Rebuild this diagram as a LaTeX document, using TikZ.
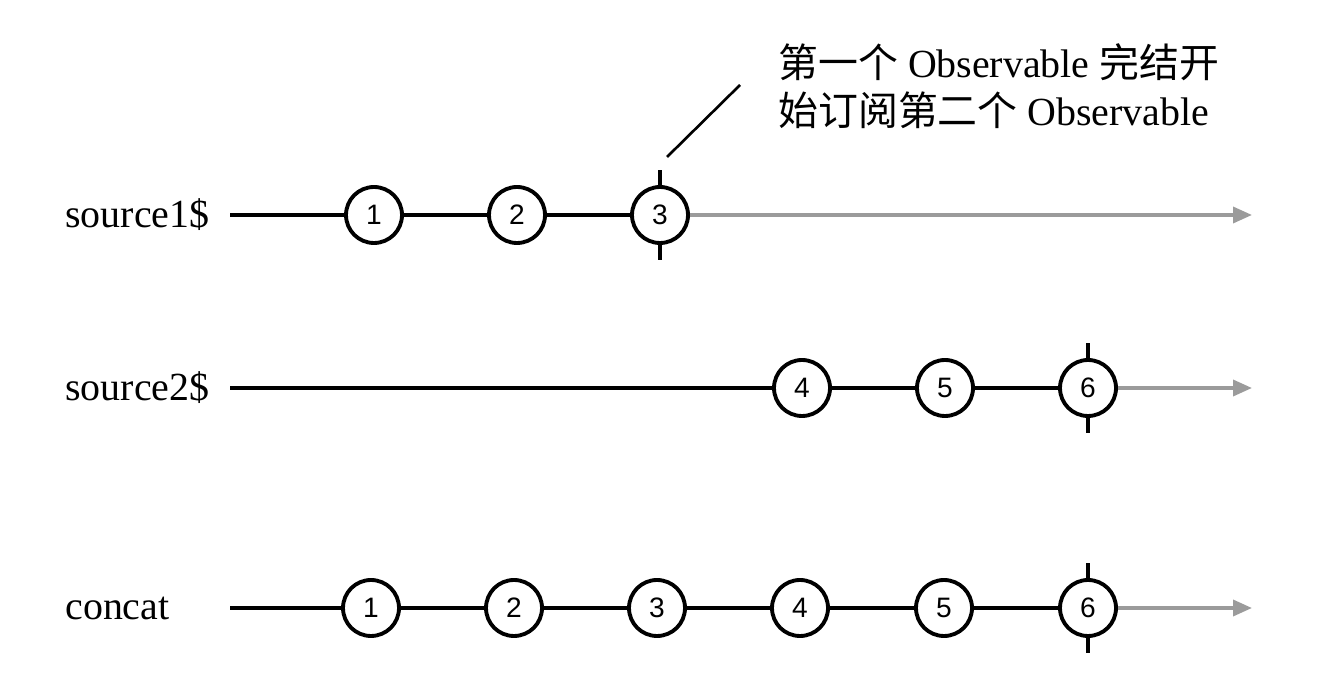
\documentclass[tikz,border=0pt]{standalone}
\usepackage{fontspec}
\setmainfont{Liberation Serif}
\newfontfamily\cjk{Noto Sans CJK SC}
\newfontfamily\numfont{Liberation Sans}
\usepackage[usenames]{xcolor}
\usepackage{tikz}
\usetikzlibrary{positioning}
\usetikzlibrary{arrows.meta}
\definecolor{done_gray}{RGB}{155,155,155}
\tikzset{my_timeline/.style={line width=2.2pt}}
\tikzset{my_marble/.style={circle, draw, line width=2.2pt, fill=white, minimum size=1.12cm, inner sep=0pt, font=\numfont\fontsize{16}{16}\selectfont}}
\tikzset{my_label/.style={anchor=west, inner sep=0pt, font=\fontsize{22.7}{27}\selectfont}}
\tikzset{my_rest/.style={draw=done_gray, line width=2pt, -{Triangle[length=0.38cm,width=0.32cm]}}}
\tikzset{my_tick/.style={line width=2.2pt}}

\begin{document}
\begin{tikzpicture}
    \useasboundingbox (0,0) rectangle (26.76,13.6);
    %\draw[help lines] (0,0) grid (26,13);
    \node[my_label] (src1) at (1.3,9.3) {source1\$};
    \node[my_label] (src2) at (1.3,5.84) {source2\$};
    \node[my_label] (cat) at (1.3,1.44) {concat};
    \coordinate (a0) at (4.6,9.3);
    \coordinate (b0) at (4.6,5.84);
    \coordinate (c0) at (4.6,1.44);
    \coordinate (a_end) at (25.04,9.3);
    \coordinate (b_end) at (25.04,5.84);
    \coordinate (c_end) at (25.04,1.44);

    \node[my_marble] (a1) at (7.48,9.3) {1};
    \node[my_marble] (a2) at (10.34,9.3) {2};
    \node[my_marble] (a3) at (13.2,9.3) {3};
    \node[my_marble] (b4) at (16.04,5.84) {4};
    \node[my_marble] (b5) at (18.9,5.84) {5};
    \node[my_marble] (b6) at (21.76,5.84) {6};
    \node[my_marble] (c1) at (7.42,1.44) {1};
    \node[my_marble] (c2) at (10.28,1.44) {2};
    \node[my_marble] (c3) at (13.14,1.44) {3};
    \node[my_marble] (c4) at (16.0,1.44) {4};
    \node[my_marble] (c5) at (18.88,1.44) {5};
    \node[my_marble] (c6) at (21.76,1.44) {6};

    \draw[my_timeline] (a0) -- (a1) (a1) -- (a2) (a2) -- (a3);
    \draw[my_timeline] (b0) -- (b4) (b4) -- (b5) (b5) -- (b6);
    \draw[my_timeline] (c0) -- (c1) (c1) -- (c2) (c2) -- (c3)
        (c3) -- (c4) (c4) -- (c5) (c5) -- (c6);
    \draw[my_rest] (a3) -- (a_end);
    \draw[my_rest] (b6) -- (b_end);
    \draw[my_rest] (c6) -- (c_end);

    % completion ticks
    \draw[my_tick] (a3.north) -- ++(0,0.3) (a3.south) -- ++(0,-0.3);
    \draw[my_tick] (b6.north) -- ++(0,0.3) (b6.south) -- ++(0,-0.3);
    \draw[my_tick] (c6.north) -- ++(0,0.3) (c6.south) -- ++(0,-0.3);

    \node[my_label, align=left] (note) at (15.56,11.88)
        {{\cjk 第一个} Observable {\cjk 完结开}\\{\cjk 始订阅第二个} Observable};
    \coordinate (note_foot) at (13.34,10.46);
    \coordinate (note_head) at (14.8,11.9);
    \draw[line width=1.5pt] (note_foot) -- (note_head);
\end{tikzpicture}
\end{document}
